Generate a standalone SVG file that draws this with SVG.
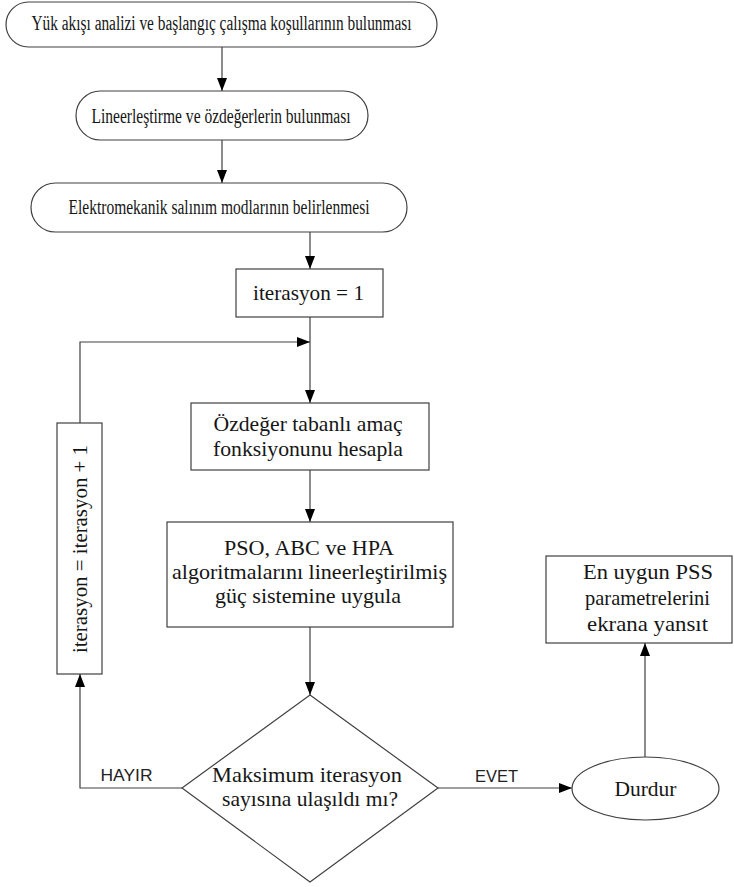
<svg xmlns="http://www.w3.org/2000/svg" width="734" height="887" viewBox="0 0 734 887">
<defs>
<marker id="ah" viewBox="0 0 13 10" refX="13" refY="5" markerWidth="13" markerHeight="10" markerUnits="userSpaceOnUse" orient="auto">
<path d="M0,0 L13,5 L0,10 Z" fill="#000"/>
</marker>
<style>
.n{fill:#fff;stroke:#404040;stroke-width:1.2}
.t{font-family:"Liberation Serif","Times New Roman",serif;font-size:21.5px;fill:#161616;text-anchor:middle}
.s{font-size:20px}
.l{font-family:"Liberation Sans",Arial,sans-serif;font-size:16.5px;fill:#222;text-anchor:middle}
.c{fill:none;stroke:#404040;stroke-width:1.2}
</style>
</defs>
<rect width="734" height="887" fill="#fff"/>
<g id="connectors">
<line class="c" x1="222" y1="47" x2="222" y2="91" marker-end="url(#ah)"/>
<line class="c" x1="222" y1="140" x2="222" y2="183" marker-end="url(#ah)"/>
<line class="c" x1="310" y1="232" x2="310" y2="269" marker-end="url(#ah)"/>
<line class="c" x1="310" y1="317" x2="310" y2="403" marker-end="url(#ah)"/>
<polyline class="c" points="80,423 80,342 310,342" marker-end="url(#ah)"/>
<line class="c" x1="310" y1="470" x2="310" y2="522" marker-end="url(#ah)"/>
<line class="c" x1="310" y1="627" x2="310" y2="695" marker-end="url(#ah)"/>
<polyline class="c" points="182,788 80,788 80,674" marker-end="url(#ah)"/>
<line class="c" x1="437" y1="788" x2="572" y2="788" marker-end="url(#ah)"/>
<line class="c" x1="645" y1="757" x2="645" y2="643" marker-end="url(#ah)"/>
<text class="l" x="126.5" y="781" textLength="52" lengthAdjust="spacingAndGlyphs">HAYIR</text>
<text class="l" x="496.5" y="782" textLength="43" lengthAdjust="spacingAndGlyphs">EVET</text>
</g>
<g id="n1">
<rect class="n" x="6" y="2" width="431" height="45" rx="22.5" ry="22.5"/>
<text class="t s" x="221.5" y="30" textLength="380" lengthAdjust="spacingAndGlyphs">Yük akışı analizi ve başlangıç çalışma koşullarının bulunması</text>
</g>
<g id="n2">
<rect class="n" x="76" y="91" width="292" height="49" rx="24.5" ry="24.5"/>
<text class="t s" x="221" y="122.5" textLength="259" lengthAdjust="spacingAndGlyphs">Lineerleştirme ve özdeğerlerin bulunması</text>
</g>
<g id="n3">
<rect class="n" x="31" y="183" width="376" height="49" rx="24.5" ry="24.5"/>
<text class="t s" x="219" y="214" textLength="301" lengthAdjust="spacingAndGlyphs">Elektromekanik salınım modlarının belirlenmesi</text>
</g>
<g id="n4">
<rect class="n" x="236" y="269" width="147" height="48"/>
<text class="t" x="308.5" y="300" textLength="111" lengthAdjust="spacingAndGlyphs">iterasyon = 1</text>
</g>
<g id="n5">
<rect class="n" x="191" y="403" width="238" height="67"/>
<text class="t" x="308" y="431" textLength="189" lengthAdjust="spacingAndGlyphs">Özdeğer tabanlı amaç</text>
<text class="t" x="308" y="456" textLength="190" lengthAdjust="spacingAndGlyphs">fonksiyonunu hesapla</text>
</g>
<g id="n6">
<rect class="n" x="167" y="522" width="286" height="105"/>
<text class="t" x="309" y="555" textLength="170" lengthAdjust="spacingAndGlyphs">PSO, ABC ve HPA</text>
<text class="t" x="309.5" y="579" textLength="275" lengthAdjust="spacingAndGlyphs">algoritmalarını lineerleştirilmiş</text>
<text class="t" x="308" y="603" textLength="186" lengthAdjust="spacingAndGlyphs">güç sistemine uygula</text>
</g>
<g id="n7">
<rect class="n" x="57" y="423" width="45" height="251"/>
<text class="t" transform="translate(87,549) rotate(-90)" x="0" y="0" textLength="208" lengthAdjust="spacingAndGlyphs">iterasyon = iterasyon + 1</text>
</g>
<g id="n8">
<polygon class="n" points="310,695 438,788 310,882 182,788"/>
<text class="t" x="307" y="782" textLength="190" lengthAdjust="spacingAndGlyphs">Maksimum iterasyon</text>
<text class="t" x="310" y="806" textLength="176" lengthAdjust="spacingAndGlyphs">sayısına ulaşıldı mı?</text>
</g>
<g id="n9">
<ellipse class="n" cx="645.5" cy="788.5" rx="73.5" ry="31.5"/>
<text class="t" x="645.5" y="796">Durdur</text>
</g>
<g id="n10">
<rect class="n" x="546" y="556" width="186" height="87"/>
<text class="t" x="648" y="579" textLength="130" lengthAdjust="spacingAndGlyphs">En uygun PSS</text>
<text class="t" x="647.5" y="605" textLength="125" lengthAdjust="spacingAndGlyphs">parametrelerini</text>
<text class="t" x="647.5" y="631" textLength="121" lengthAdjust="spacingAndGlyphs">ekrana yansıt</text>
</g>
</svg>
